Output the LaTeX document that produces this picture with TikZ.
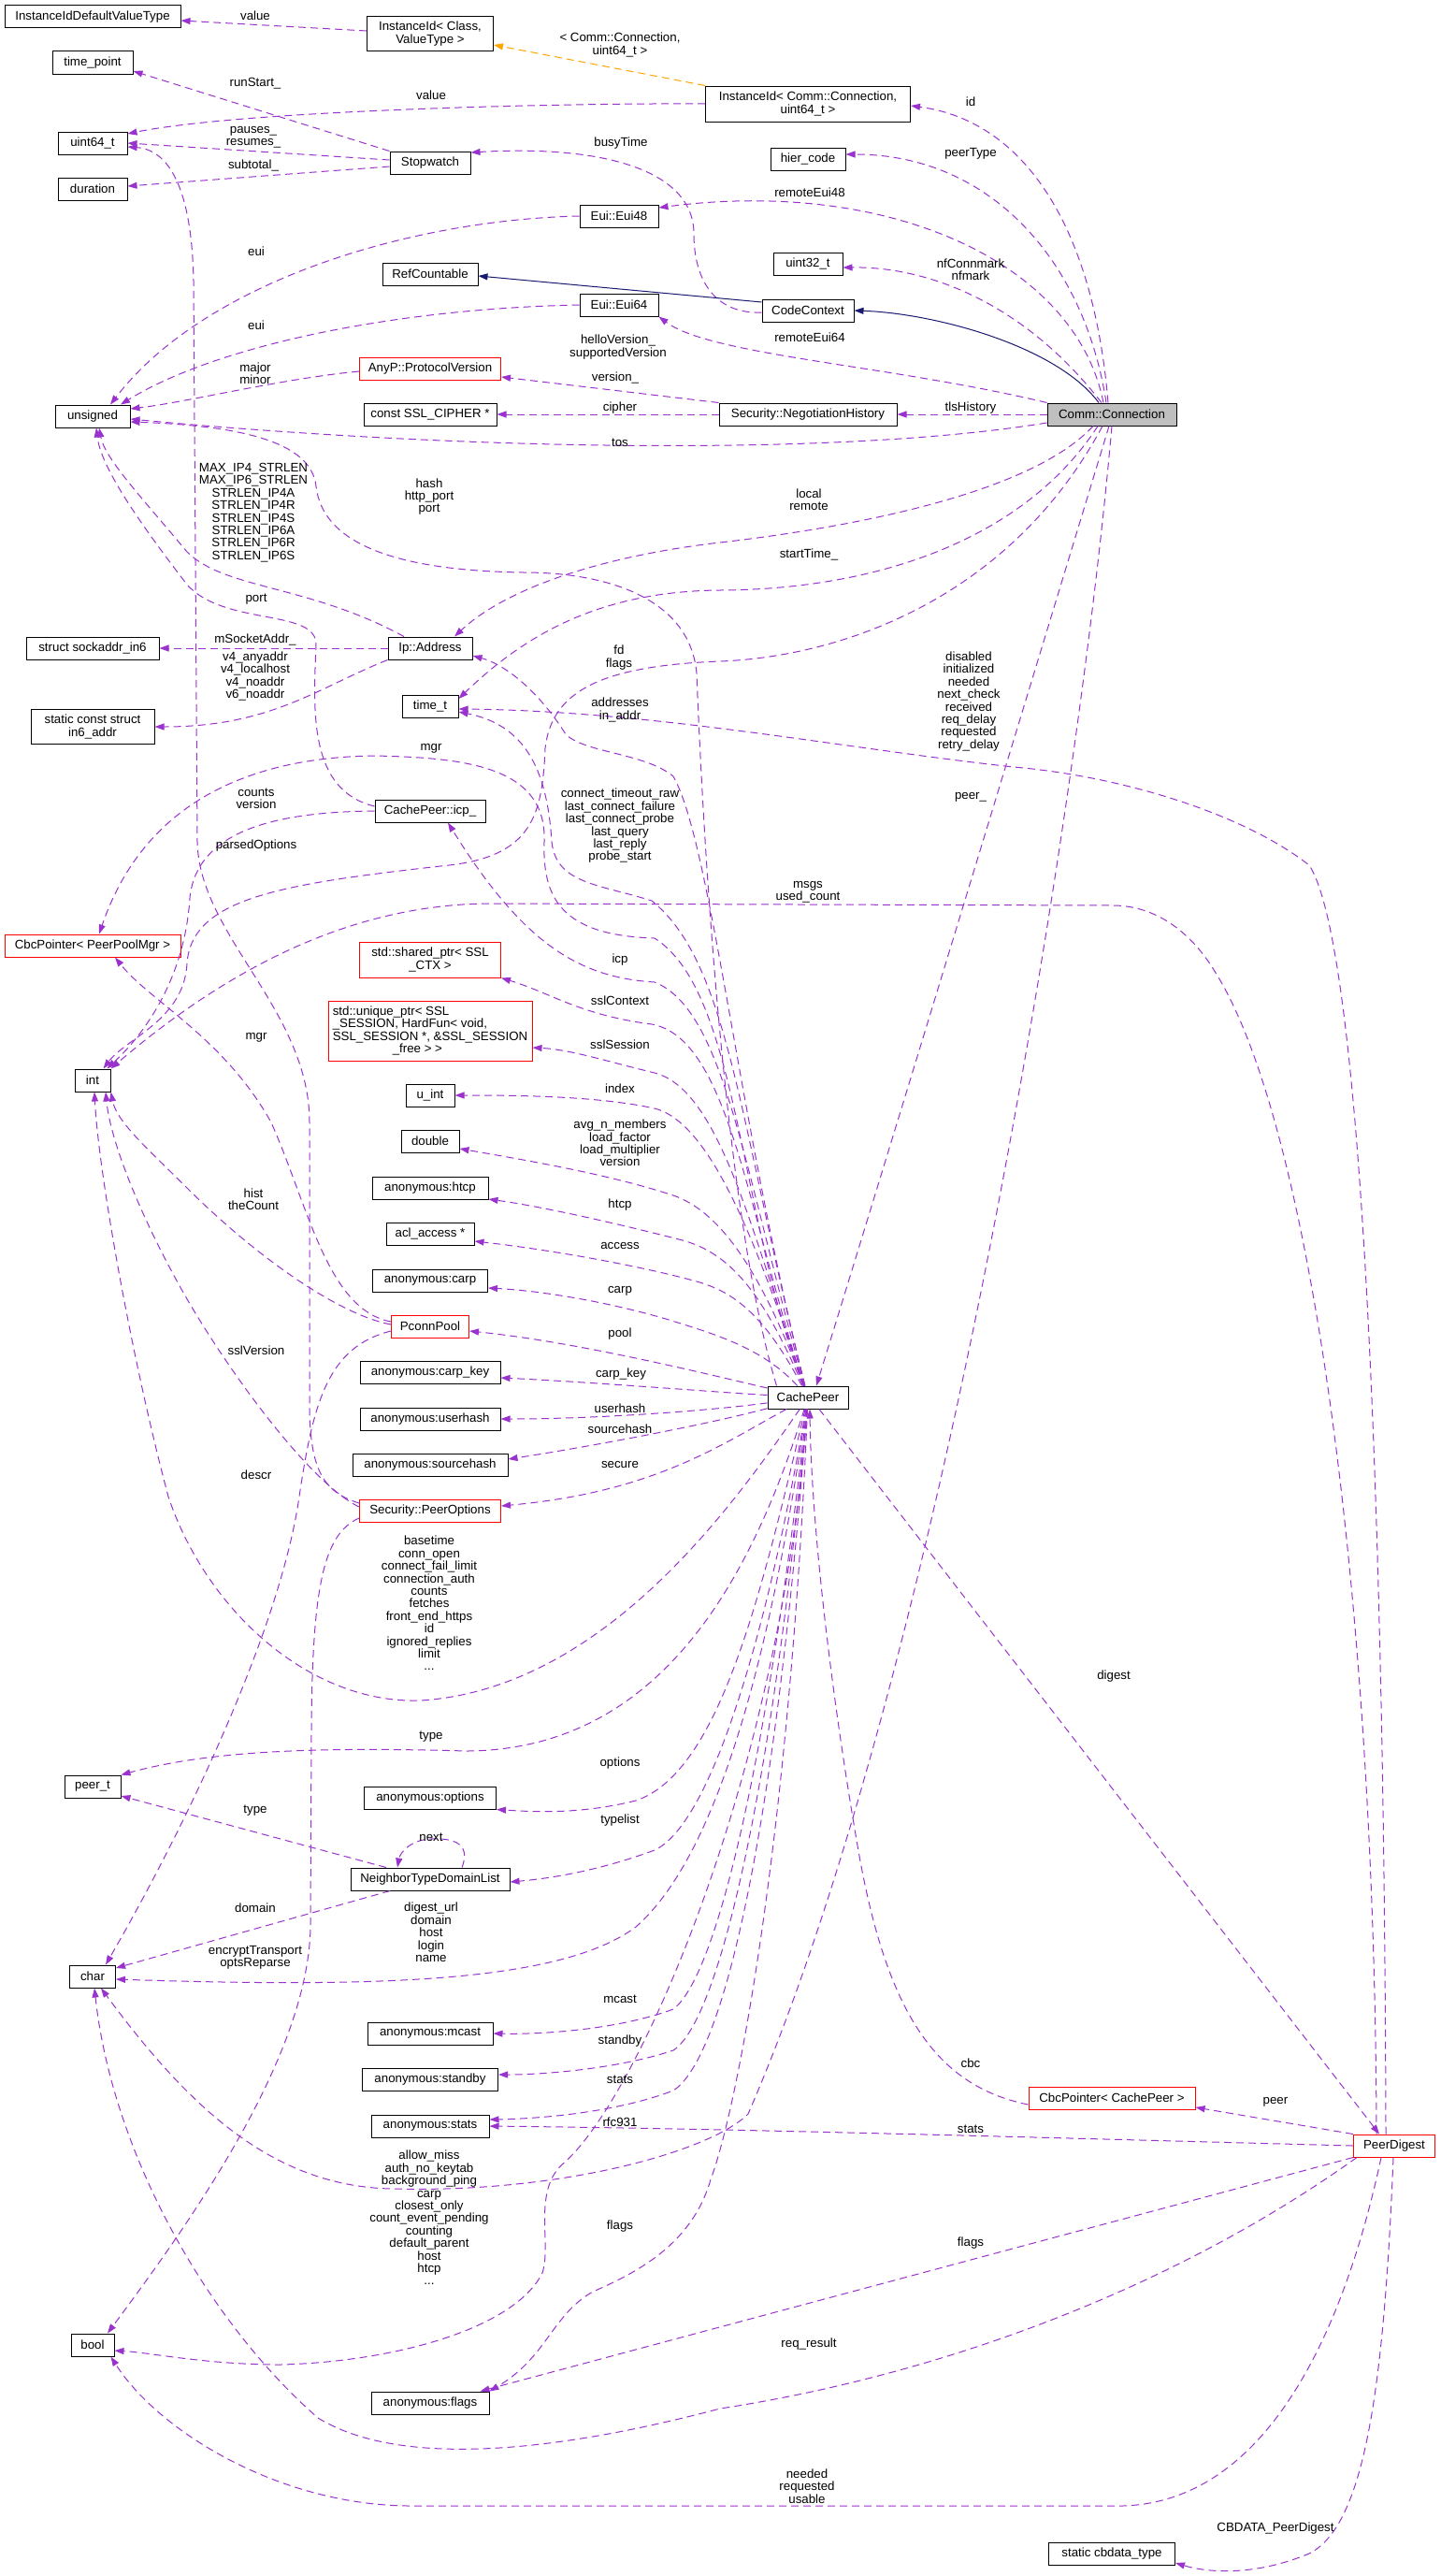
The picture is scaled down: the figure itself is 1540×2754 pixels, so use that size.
\documentclass[tikz,border=0pt]{standalone}
\usepackage{fontspec}
\setmainfont{Liberation Sans}
\usepackage{xcolor}
\definecolor{edgepurple}{RGB}{154, 50, 205}
\definecolor{inhnavy}{RGB}{25, 25, 112}
\definecolor{tmplorange}{RGB}{255, 165, 0}
\definecolor{nodegrey}{RGB}{191, 191, 191}
\usepackage{tikz}
\usetikzlibrary{arrows.meta}

\begin{document}
\begin{tikzpicture}[x=1pt, y=-1pt, font=\fontsize{13.3}{13.4}\selectfont,
    cls/.style={draw=black, line width=1pt, fill=white, minimum height=24pt, inner sep=2pt, align=center},
    trunc/.style={cls, draw=red},
    lbl/.style={inner sep=0pt, align=center},
    mem/.style={draw=edgepurple, line width=1pt, dash pattern=on 8pt off 5pt, -{Triangle[length=10pt, width=7pt]}},
    inh/.style={draw=inhnavy, line width=1pt, -{Triangle[length=10pt, width=7pt]}},
    tmpl/.style={draw=tmplorange, line width=1pt, dash pattern=on 8pt off 5pt, -{Triangle[length=10pt, width=7pt]}}]
    \useasboundingbox (0,0) rectangle (1540,2754);
    \fill[white] (0,0) rectangle (1540,2754);

    \node[cls, minimum width=188pt] (iidvt) at (99,18) {InstanceIdDefaultValueType};
    \node[cls, minimum width=135pt, minimum height=37pt] (iidcv) at (460,36) {InstanceId< Class,\\ ValueType >};
    \node[cls, minimum width=86pt] (tpoint) at (99,67) {time\_point};
    \node[cls, minimum width=74pt] (u64) at (99,153) {uint64\_t};
    \node[cls, minimum width=74pt] (dur) at (99,202) {duration};
    \node[cls, minimum width=86pt] (sw) at (460,174) {Stopwatch};
    \node[cls, minimum width=84pt] (eui48) at (662,231) {Eui::Eui48};
    \node[cls, minimum width=102pt] (refc) at (460,293) {RefCountable};
    \node[cls, minimum width=84pt] (eui64) at (662,326) {Eui::Eui64};
    \node[trunc, minimum width=151pt] (pver) at (460,394) {AnyP::ProtocolVersion};
    \node[cls, minimum width=142pt] (cipher) at (460,443) {const SSL\_CIPHER *};
    \node[cls, minimum width=80pt] (uns) at (99,445) {unsigned};
    \node[cls, minimum width=219pt, minimum height=38pt] (iidcc) at (864,111) {InstanceId< Comm::Connection,\\ uint64\_t >};
    \node[cls, minimum width=80pt] (hier) at (864,170) {hier\_code};
    \node[cls, minimum width=74pt] (u32) at (864,282) {uint32\_t};
    \node[cls, minimum width=98pt] (ctx) at (864,332) {CodeContext};
    \node[cls, minimum width=190pt] (neg) at (864,443) {Security::NegotiationHistory};
    \node[cls, fill=nodegrey, minimum width=138pt] (conn) at (1189,443) {Comm::Connection};
    \node[cls, minimum width=142pt] (sin6) at (99,693) {struct sockaddr\_in6};
    \node[cls, minimum width=132pt, minimum height=37pt] (in6) at (99,777) {static const struct\\ in6\_addr};
    \node[cls, minimum width=90pt] (ipa) at (460,693) {Ip::Address};
    \node[cls, minimum width=60pt] (timet) at (460,755) {time\_t};
    \node[cls, minimum width=118pt] (icp) at (460,867) {CachePeer::icp\_};
    \node[trunc, minimum width=188pt] (cbcmgr) at (99,1011) {CbcPointer< PeerPoolMgr >};
    \node[cls, minimum width=38pt] (int) at (99,1155) {int};
    \node[trunc, minimum width=151pt, minimum height=38pt] (sslctx) at (460,1026) {std::shared\_ptr< SSL\\\_CTX >};
    \node[trunc, align=left, minimum width=218pt, minimum height=64pt] (sslsess) at (460,1102) {std::unique\_ptr< SSL\\\_SESSION, HardFun< void,\\ SSL\_SESSION *, \&SSL\_SESSION\\\hspace*{64pt}\_free > >};
    \node[cls, minimum width=52pt] (uint) at (460,1171) {u\_int};
    \node[cls, minimum width=62pt] (dbl) at (460,1220) {double};
    \node[cls, minimum width=124pt] (ahtcp) at (460,1270) {anonymous:htcp};
    \node[cls, minimum width=94pt] (acl) at (460,1319) {acl\_access *};
    \node[cls, minimum width=123pt] (acarp) at (460,1369) {anonymous:carp};
    \node[trunc, minimum width=83pt] (pconn) at (460,1418) {PconnPool};
    \node[cls, minimum width=150pt] (acarpkey) at (460,1467) {anonymous:carp\_key};
    \node[cls, minimum width=150pt] (auserhash) at (460,1517) {anonymous:userhash};
    \node[cls, minimum width=166pt] (asrchash) at (460,1566) {anonymous:sourcehash};
    \node[trunc, minimum width=151pt] (popts) at (460,1615) {Security::PeerOptions};
    \node[cls, minimum width=86pt] (cp) at (864,1494) {CachePeer};
    \node[cls, minimum width=60pt] (peert) at (99,1910) {peer\_t};
    \node[cls, minimum width=141pt] (aopts) at (460,1922) {anonymous:options};
    \node[cls, minimum width=170pt] (ntdl) at (460,2009) {NeighborTypeDomainList};
    \node[cls, minimum width=49pt] (char) at (99,2113) {char};
    \node[cls, minimum width=134pt] (amcast) at (460,2174) {anonymous:mcast};
    \node[cls, minimum width=145pt] (astandby) at (460,2223) {anonymous:standby};
    \node[cls, minimum width=126pt] (astats) at (460,2273) {anonymous:stats};
    \node[cls, minimum width=126pt] (aflags) at (460,2569) {anonymous:flags};
    \node[cls, minimum width=46pt] (bool) at (99,2507) {bool};
    \node[trunc, minimum width=178pt] (cbccp) at (1189,2243) {CbcPointer< CachePeer >};
    \node[trunc, minimum width=87pt] (pd) at (1491,2294) {PeerDigest};
    \node[cls, minimum width=135pt] (cbdt) at (1189,2730) {static cbdata\_type};

    % upper part
    \draw[mem] ([yshift=3pt]iidcv.west) -- ([yshift=-4pt]iidvt.east);
    \draw[tmpl] (iidcc.north west) -- ([yshift=-12pt]iidcv.east);
    \draw[mem] (sw.north west) -- ([yshift=-9pt]tpoint.east);
    \draw[mem] (iidcc.west) .. controls (600,110) and (260,118) .. ([yshift=10pt]u64.east);
    \draw[mem] ([yshift=3pt]sw.west) -- (u64.east);
    \draw[mem] ([yshift=-4pt]sw.west) -- ([yshift=3pt]dur.east);
    \draw[mem] ([yshift=-2pt]ctx.west) .. controls (765,336) and (742,300) .. (742,250) .. controls (742,180) and (640,155) .. ([yshift=11pt]sw.east);
    \draw[inh] ([yshift=9pt]ctx.west) -- ([yshift=-2pt]refc.east);
    \draw[mem] (eui48.west) .. controls (440,235) and (220,300) .. ([xshift=19pt]uns.north);
    \draw[mem] (eui64.west) .. controls (420,330) and (230,370) .. ([xshift=30pt]uns.north);
    \draw[mem] ([yshift=-3pt]pver.west) .. controls (300,405) and (200,430) .. ([yshift=8pt]uns.east);
    \draw[mem] ([yshift=-9pt]conn.west) .. controls (900,488) and (500,482) .. ([yshift=-3pt]uns.east);
    \draw[mem] ([xshift=10pt]cp.north west) .. controls (775,1300) and (752,900) .. (745,720) .. controls (738,640) and (650,612) .. (560,612) .. controls (420,610) and (345,580) .. (338,520) .. controls (333,470) and (250,455) .. ([yshift=-6pt]uns.east);
    \draw[mem] ([xshift=-28pt]ipa.north) .. controls (330,625) and (240,630) .. (200,590) .. controls (150,530) and (112,490) .. ([xshift=7pt]uns.south);
    \draw[mem] ([yshift=5pt]icp.west) .. controls (330,845) and (335,760) .. (338,690) .. controls (340,650) and (240,670) .. (200,625) .. controls (150,560) and (108,500) .. ([xshift=4pt]uns.south);
    \draw[mem] (ipa.west) -- (sin6.east);
    \draw[mem] (ipa.south west) .. controls (340,735) and (290,777) .. (in6.east);

    % Comm::Connection
    \draw[inh] ([xshift=-14pt]conn.north) .. controls (1130,370) and (1000,335) .. (ctx.east);
    \draw[mem] ([xshift=-4pt]conn.north) .. controls (1170,250) and (1100,130) .. ([yshift=-2pt]iidcc.east);
    \draw[mem] ([xshift=-6pt]conn.north) .. controls (1160,280) and (1060,165) .. ([yshift=5pt]hier.east);
    \draw[mem] ([xshift=-9pt]conn.north) .. controls (1150,280) and (950,190) .. ([yshift=9pt]eui48.east);
    \draw[mem] ([xshift=-11pt]conn.north) .. controls (1100,330) and (1000,285) .. ([yshift=-4pt]u32.east);
    \draw[mem] (conn.north west) .. controls (950,390) and (760,380) .. (eui64.south east);
    \draw[mem] (conn.west) -- (neg.east);
    \draw[mem] (neg.north west) -- ([yshift=-9pt]pver.east);
    \draw[mem] (neg.west) -- (cipher.east);
    \draw[mem] ([xshift=-20pt]conn.south) .. controls (1100,530) and (900,565) .. (770,580) .. controls (640,595) and (540,630) .. ([xshift=26pt]ipa.north);
    \draw[mem] ([xshift=-15pt]conn.south) .. controls (1100,570) and (950,630) .. (770,631) .. controls (640,632) and (560,680) .. ([yshift=8pt]timet.east);
    \draw[mem] ([xshift=-10pt]conn.south) .. controls (1080,640) and (900,702) .. (770,707) .. controls (640,712) and (590,740) .. (583,800) .. controls (580,870) and (570,915) .. (480,925) .. controls (300,945) and (205,960) .. (200,1030) .. controls (197,1090) and (135,1110) .. ([xshift=-8pt]int.north east);
    \draw[mem] ([xshift=-3pt]conn.south) .. controls (1130,640) and (960,1200) .. ([xshift=9pt]cp.north);
    \draw[mem] (conn.south) .. controls (1150,900) and (1000,1800) .. (800,2260) .. controls (760,2300) and (600,2345) .. (420,2340) .. controls (290,2338) and (200,2250) .. ([xshift=9pt]char.south);

    % CachePeer
    \draw[mem] (cp) .. controls (790,1300) and (790,1060) .. (700,1003) .. controls (600,1000) and (580,960) .. (582,900) .. controls (585,820) and (500,810) .. (400,808) .. controls (250,810) and (150,870) .. ([xshift=7pt]cbcmgr.north);
    \draw[mem] (cp) .. controls (790,1200) and (780,1030) .. (697,963) .. controls (640,945) and (595,945) .. (590,900) .. controls (585,820) and (560,775) .. ([yshift=-6pt]timet.east);
    \draw[mem] (cp) .. controls (790,1200) and (760,900) .. (720,830) .. controls (690,805) and (625,805) .. (605,785) .. controls (580,745) and (545,712) .. ([yshift=-8pt]ipa.east);
    \draw[mem] (cp) .. controls (795,1250) and (775,1080) .. (700,1050) .. controls (620,1045) and (560,1010) .. ([xshift=19pt]icp.south);
    \draw[mem] (cp) .. controls (800,1300) and (780,1110) .. (697,1095) .. controls (620,1085) and (590,1062) .. (sslctx.south east);
    \draw[mem] (cp) .. controls (805,1320) and (770,1165) .. (700,1147) .. controls (650,1135) and (610,1122) .. ([yshift=-18pt]sslsess.east);
    \draw[mem] (cp) .. controls (810,1330) and (760,1200) .. (700,1185) .. controls (640,1172) and (560,1171) .. (uint.east);
    \draw[mem] (cp) .. controls (815,1360) and (770,1295) .. (720,1278) .. controls (650,1255) and (560,1240) .. ([yshift=-8pt]dbl.east);
    \draw[mem] (cp) .. controls (815,1380) and (780,1340) .. (730,1326) .. controls (660,1308) and (580,1290) .. ([yshift=-12pt]ahtcp.east);
    \draw[mem] (cp) .. controls (815,1400) and (780,1380) .. (745,1370) .. controls (680,1352) and (580,1335) .. ([yshift=-8pt]acl.east);
    \draw[mem] (cp) .. controls (815,1440) and (760,1425) .. (712,1410) .. controls (650,1392) and (580,1380) .. ([yshift=-8pt]acarp.east);
    \draw[mem] (cp) .. controls (760,1470) and (620,1435) .. ([yshift=-5pt]pconn.east);
    \draw[mem] (cp) .. controls (760,1488) and (640,1478) .. ([yshift=-6pt]acarpkey.east);
    \draw[mem] (cp) .. controls (760,1508) and (640,1517) .. (auserhash.east);
    \draw[mem] (cp) .. controls (760,1522) and (640,1545) .. ([yshift=6pt]asrchash.east);
    \draw[mem] (cp) .. controls (770,1545) and (700,1595) .. ([yshift=5pt]popts.east);
    \draw[mem] (cp) .. controls (790,1600) and (650,1805) .. (450,1818) .. controls (330,1822) and (220,1720) .. (180,1600) .. controls (140,1450) and (105,1250) .. ([xshift=2pt]int.south);
    \draw[mem] (cp) .. controls (800,1700) and (700,1870) .. (500,1872) .. controls (350,1868) and (230,1870) .. (peert.north east);
    \draw[mem] (cp) .. controls (815,1700) and (770,1895) .. (680,1925) .. controls (620,1940) and (570,1937) .. (aopts.south east);
    \draw[mem] (cp) .. controls (820,1750) and (760,1950) .. (700,1978) .. controls (640,2000) and (590,2008) .. ([yshift=-3pt]ntdl.east);
    \draw[mem] (cp) .. controls (820,1800) and (760,1990) .. (680,2060) .. controls (600,2120) and (400,2125) .. ([yshift=-3pt]char.east);
    \draw[mem] (cp) .. controls (825,1850) and (770,2110) .. (720,2148) .. controls (660,2170) and (580,2175) .. (amcast.east);
    \draw[mem] (cp) .. controls (828,1900) and (770,2160) .. (720,2192) .. controls (660,2212) and (580,2218) .. ([yshift=5pt]astandby.east);
    \draw[mem] (cp) .. controls (830,1950) and (775,2200) .. (720,2235) .. controls (660,2258) and (580,2265) .. ([yshift=7pt]astats.east);
    \draw[mem] (cp) .. controls (835,1900) and (680,2250) .. (600,2315) .. controls (570,2345) and (590,2400) .. (580,2430) .. controls (550,2490) and (420,2525) .. (300,2528) .. controls (220,2528) and (160,2515) .. ([yshift=-6pt]bool.east);
    \draw[mem] (cp) .. controls (845,1950) and (790,2250) .. (760,2330) .. controls (740,2400) and (680,2430) .. (634,2450) .. controls (590,2475) and (585,2520) .. (aflags.north east);
    \draw[mem] ([xshift=12pt]cp.south) -- ([xshift=-16pt]pd.north);

    % PconnPool, PeerOptions, icp_, NeighborTypeDomainList
    \draw[mem] ([yshift=5pt]pconn.west) .. controls (350,1400) and (330,1290) .. (290,1200) .. controls (240,1110) and (160,1070) .. ([xshift=24pt]cbcmgr.south);
    \draw[mem] ([yshift=2pt]pconn.west) .. controls (360,1405) and (270,1340) .. (200,1270) .. controls (160,1230) and (125,1200) .. (int.south east);
    \draw[mem] ([yshift=-5pt]pconn.west) .. controls (350,1440) and (335,1500) .. (320,1600) .. controls (300,1740) and (200,1950) .. ([xshift=14pt]char.north);
    \draw[mem] ([yshift=8pt]popts.west) .. controls (345,1595) and (331,1570) .. (331,1500) -- (331,1200) .. controls (331,1080) and (213,1000) .. (211,900) -- (207,300) .. controls (205,200) and (180,160) .. ([yshift=-4pt]u64.east);
    \draw[mem] ([yshift=4pt]popts.west) .. controls (330,1585) and (240,1460) .. (195,1380) .. controls (150,1300) and (118,1220) .. ([xshift=14pt]int.south);
    \draw[mem] ([yshift=-8pt]popts.west) .. controls (345,1640) and (334,1700) .. (333,1850) -- (332,2060) .. controls (330,2200) and (200,2380) .. ([xshift=16pt]bool.north);
    \draw[mem] (icp.west) .. controls (290,868) and (210,890) .. (203,960) .. controls (198,1040) and (160,1100) .. ([xshift=-4pt]int.north east);
    \draw[mem] ([xshift=-47pt]ntdl.north) -- ([yshift=-10pt]peert.east);
    \draw[mem] ([xshift=34pt]ntdl.north) .. controls (505,1968) and (480,1965) .. (460,1966) .. controls (440,1967) and (428,1980) .. ([xshift=-35pt]ntdl.north);
    \draw[mem] ([xshift=-43pt]ntdl.south) -- ([yshift=9pt]char.east);

    % PeerDigest
    \draw[mem] ([xshift=-19pt]pd.north) .. controls (1470,1700) and (1400,1200) .. (1300,1040) .. controls (1270,990) and (1230,968) .. (1190,968) -- (520,966) .. controls (380,968) and (250,1030) .. (int.north east);
    \draw[mem] ([xshift=-9pt]pd.north) .. controls (1480,1500) and (1450,1000) .. (1400,925) .. controls (1330,870) and (1200,830) .. (1084,820) .. controls (900,800) and (700,760) .. ([yshift=-3pt]timet.east);
    \draw[mem] (pd.west) .. controls (1100,2285) and (800,2276) .. (astats.east);
    \draw[mem] (pd.south west) -- ([xshift=-10pt]aflags.north east);
    \draw[mem] ([xshift=4pt]pd.south west) .. controls (1250,2450) and (1000,2540) .. (770,2575) .. controls (600,2620) and (430,2640) .. (340,2585) .. controls (220,2480) and (120,2300) .. ([xshift=2pt]char.south);
    \draw[mem] ([xshift=-14pt]pd.south) .. controls (1440,2480) and (1360,2675) .. (1200,2679) -- (440,2679) .. controls (300,2679) and (170,2600) .. ([xshift=-4pt]bool.south east);
    \draw[mem] ([xshift=-1pt]pd.south) .. controls (1480,2550) and (1460,2700) .. (1400,2730) .. controls (1340,2755) and (1290,2750) .. ([yshift=-10pt]cbdt.east);
    \draw[mem] (pd.north west) -- ([yshift=-10pt]cbccp.east);
    \draw[mem] ([yshift=-7pt]cbccp.west) .. controls (1000,2230) and (950,2150) .. (920,1990) .. controls (895,1850) and (868,1650) .. ([xshift=2pt]cp.south);

    % labels
    \node[lbl] (lvalA) at (273,17) {value};
    \node[lbl] (ltmpl) at (663,48) {< Comm::Connection,\\uint64\_t >};
    \node[lbl] (lrunstart) at (273,89) {runStart\_};
    \node[lbl] (lvalB) at (461,102) {value};
    \node[lbl] (lpauses) at (271,147) {pauses\_\\resumes\_};
    \node[lbl] (lsubtotal) at (271,177) {subtotal\_};
    \node[lbl] (lbusy) at (664,153) {busyTime};
    \node[lbl] (leuiA) at (274,269) {eui};
    \node[lbl] (leuiB) at (274,348) {eui};
    \node[lbl] (lhello) at (661,371) {helloVersion\_\\supportedVersion};
    \node[lbl] (lmajor) at (273,399) {major\\minor};
    \node[lbl] (lversion) at (658,404) {version\_};
    \node[lbl] (lcipher) at (663,436) {cipher};
    \node[lbl] (lid) at (1038,109) {id};
    \node[lbl] (lpeertype) at (1038,164) {peerType};
    \node[lbl] (lremA) at (866,206) {remoteEui48};
    \node[lbl] (lnfmark) at (1038,288) {nfConnmark\\nfmark};
    \node[lbl] (lremB) at (866,361) {remoteEui64};
    \node[lbl] (ltls) at (1038,436) {tlsHistory};
    \node[lbl] (ltos) at (663,473) {tos};
    \node[lbl] (lmaxip) at (271,548) {MAX\_IP4\_STRLEN\\MAX\_IP6\_STRLEN\\STRLEN\_IP4A\\STRLEN\_IP4R\\STRLEN\_IP4S\\STRLEN\_IP6A\\STRLEN\_IP6R\\STRLEN\_IP6S};
    \node[lbl] (lhash) at (459,531) {hash\\http\_port\\port};
    \node[lbl] (lport) at (274,641) {port};
    \node[lbl] (llocal) at (865,534) {local\\remote};
    \node[lbl] (lstart) at (865,593) {startTime\_};
    \node[lbl] (lsock) at (273,684) {mSocketAddr\_};
    \node[lbl] (lvfour) at (273,723) {v4\_anyaddr\\v4\_localhost\\v4\_noaddr\\v6\_noaddr};
    \node[lbl] (lfd) at (662,703) {fd\\flags};
    \node[lbl] (laddr) at (663,759) {addresses\\in\_addr};
    \node[lbl] (ldisabled) at (1036,750) {disabled\\initialized\\needed\\next\_check\\received\\req\_delay\\requested\\retry\_delay};
    \node[lbl] (lmgrA) at (461,800) {mgr};
    \node[lbl] (lcounts) at (274,854) {counts\\version};
    \node[lbl] (lconnect) at (663,883) {connect\_timeout\_raw\\last\_connect\_failure\\last\_connect\_probe\\last\_query\\last\_reply\\probe\_start};
    \node[lbl] (lpeerA) at (1038,852) {peer\_};
    \node[lbl] (lparsed) at (274,904) {parsedOptions};
    \node[lbl] (lmsgs) at (864,954) {msgs\\used\_count};
    \node[lbl] (licp) at (663,1026) {icp};
    \node[lbl] (lsslctx) at (663,1070) {sslContext};
    \node[lbl] (lmgrB) at (274,1109) {mgr};
    \node[lbl] (lsslsess) at (663,1117) {sslSession};
    \node[lbl] (lindex) at (663,1164) {index};
    \node[lbl] (lavg) at (663,1222) {avg\_n\_members\\load\_factor\\load\_multiplier\\version};
    \node[lbl] (lhist) at (271,1282) {hist\\theCount};
    \node[lbl] (lhtcp) at (663,1288) {htcp};
    \node[lbl] (laccess) at (663,1332) {access};
    \node[lbl] (lcarp) at (663,1380) {carp};
    \node[lbl] (lpool) at (663,1426) {pool};
    \node[lbl] (lsslver) at (274,1444) {sslVersion};
    \node[lbl] (lcarpkey) at (664,1469) {carp\_key};
    \node[lbl] (luserhash) at (663,1506) {userhash};
    \node[lbl] (lsrchash) at (663,1528) {sourcehash};
    \node[lbl] (lsecure) at (663,1566) {secure};
    \node[lbl] (ldescr) at (274,1577) {descr};
    \node[lbl] (lbasetime) at (459,1714) {basetime\\conn\_open\\connect\_fail\_limit\\connection\_auth\\counts\\fetches\\front\_end\_https\\id\\ignored\_replies\\limit\\...};
    \node[lbl] (ldigest) at (1191,1792) {digest};
    \node[lbl] (ltypeA) at (461,1857) {type};
    \node[lbl] (loptions) at (663,1885) {options};
    \node[lbl] (ltypeB) at (273,1936) {type};
    \node[lbl] (ltypelist) at (663,1946) {typelist};
    \node[lbl] (lnext) at (461,1964) {next};
    \node[lbl] (ldomain) at (273,2040) {domain};
    \node[lbl] (ldigesturl) at (461,2066) {digest\_url\\domain\\host\\login\\name};
    \node[lbl] (lencrypt) at (273,2093) {encryptTransport\\optsReparse};
    \node[lbl] (lmcast) at (663,2137) {mcast};
    \node[lbl] (lstandby) at (663,2182) {standby};
    \node[lbl] (lcbc) at (1038,2206) {cbc};
    \node[lbl] (lstatsA) at (663,2223) {stats};
    \node[lbl] (lpeerB) at (1364,2247) {peer};
    \node[lbl] (lrfc) at (663,2269) {rfc931};
    \node[lbl] (lstatsB) at (1038,2276) {stats};
    \node[lbl] (lallow) at (459,2371) {allow\_miss\\auth\_no\_keytab\\background\_ping\\carp\\closest\_only\\count\_event\_pending\\counting\\default\_parent\\host\\htcp\\...};
    \node[lbl] (lflagsA) at (663,2380) {flags};
    \node[lbl] (lflagsB) at (1038,2398) {flags};
    \node[lbl] (lreq) at (865,2506) {req\_result};
    \node[lbl] (lneeded) at (863,2658) {needed\\requested\\usable};
    \node[lbl] (lcbdata) at (1364,2703) {CBDATA\_PeerDigest};
\end{tikzpicture}
\end{document}
